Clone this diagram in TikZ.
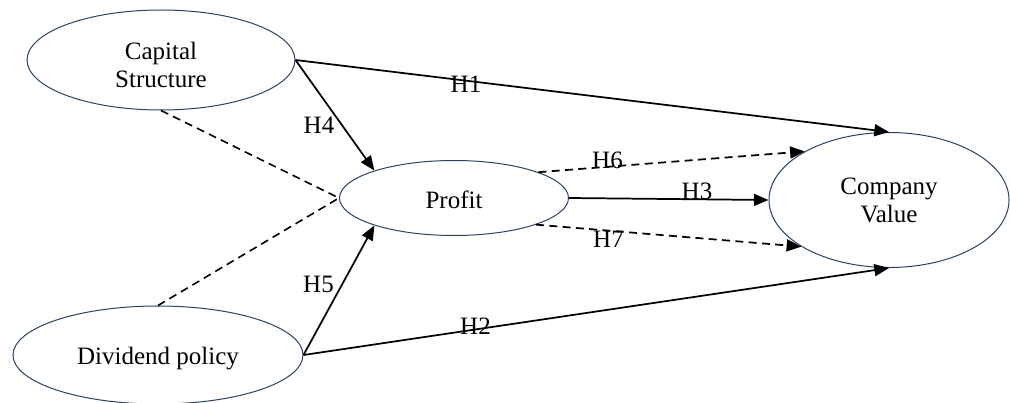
\documentclass[tikz,border=0pt]{standalone}
\usepackage{fontspec}
\setmainfont{Liberation Serif}
\usetikzlibrary{shapes.geometric,arrows.meta}
\definecolor{outlineblue}{RGB}{44,66,98}
\begin{document}
\begin{tikzpicture}[x=0.75pt,y=-0.75pt,
  construct/.style={ellipse,draw=outlineblue,line width=0.75pt,inner sep=0pt},
  caption/.style={align=center,inner sep=0pt,font=\fontsize{18.75}{21}\selectfont},
  effect/.style={line width=1.3pt,-{Triangle[length=11pt,width=9pt]}},
  moderated/.style={effect,dash pattern=on 6pt off 4pt},
  link/.style={line width=1.2pt,dash pattern=on 6pt off 4pt},
  hyp/.style={anchor=base,inner sep=0pt,font=\fontsize{18.75}{21}\selectfont}]
  \useasboundingbox (0,0) rectangle (1010,403);

  % constructs
  \node[construct,minimum width=201pt,minimum height=75pt,
    label={[caption,yshift=-3.5pt]center:Capital\\Structure}] (cs) at (161,60) {};
  \node[construct,minimum width=217.5pt,minimum height=73.5pt,
    label={[caption,yshift=-3pt]center:Dividend policy}] (dp) at (158,355) {};
  \node[construct,minimum width=171.75pt,minimum height=56.25pt,
    label={[caption,yshift=-1.5pt]center:Profit}] (pr) at (454,198) {};
  \node[construct,minimum width=180pt,minimum height=101.25pt,
    label={[caption]center:Company\\Value}] (cv) at (889,200) {};

  % moderation links into Profit
  \draw[link] (cs.south) -- (pr.west);
  \draw[link] (dp.north) -- (pr.west);

  % direct effects
  \draw[effect] (cs.east) -- (cv.north);
  \draw[effect] (cs.east) -- (pr.161.6);
  \draw[effect] (dp.east) -- (pr.199.7);
  \draw[effect] (dp.east) -- (cv.south);
  \draw[effect] (pr.east) -- (cv.west);

  % moderated effects
  \draw[moderated] (pr.17.8) -- (cv.150.8);
  \draw[moderated] (pr.342.2) -- (cv.208.1);

  % hypothesis labels
  \node[hyp] (h1) at (466,93) {H1};
  \node[hyp] (h2) at (475.5,334) {H2};
  \node[hyp] (h3) at (697,199) {H3};
  \node[hyp] (h4) at (319,133) {H4};
  \node[hyp] (h5) at (318.5,292) {H5};
  \node[hyp] (h6) at (607.5,168) {H6};
  \node[hyp] (h7) at (608.5,247) {H7};
\end{tikzpicture}
\end{document}
